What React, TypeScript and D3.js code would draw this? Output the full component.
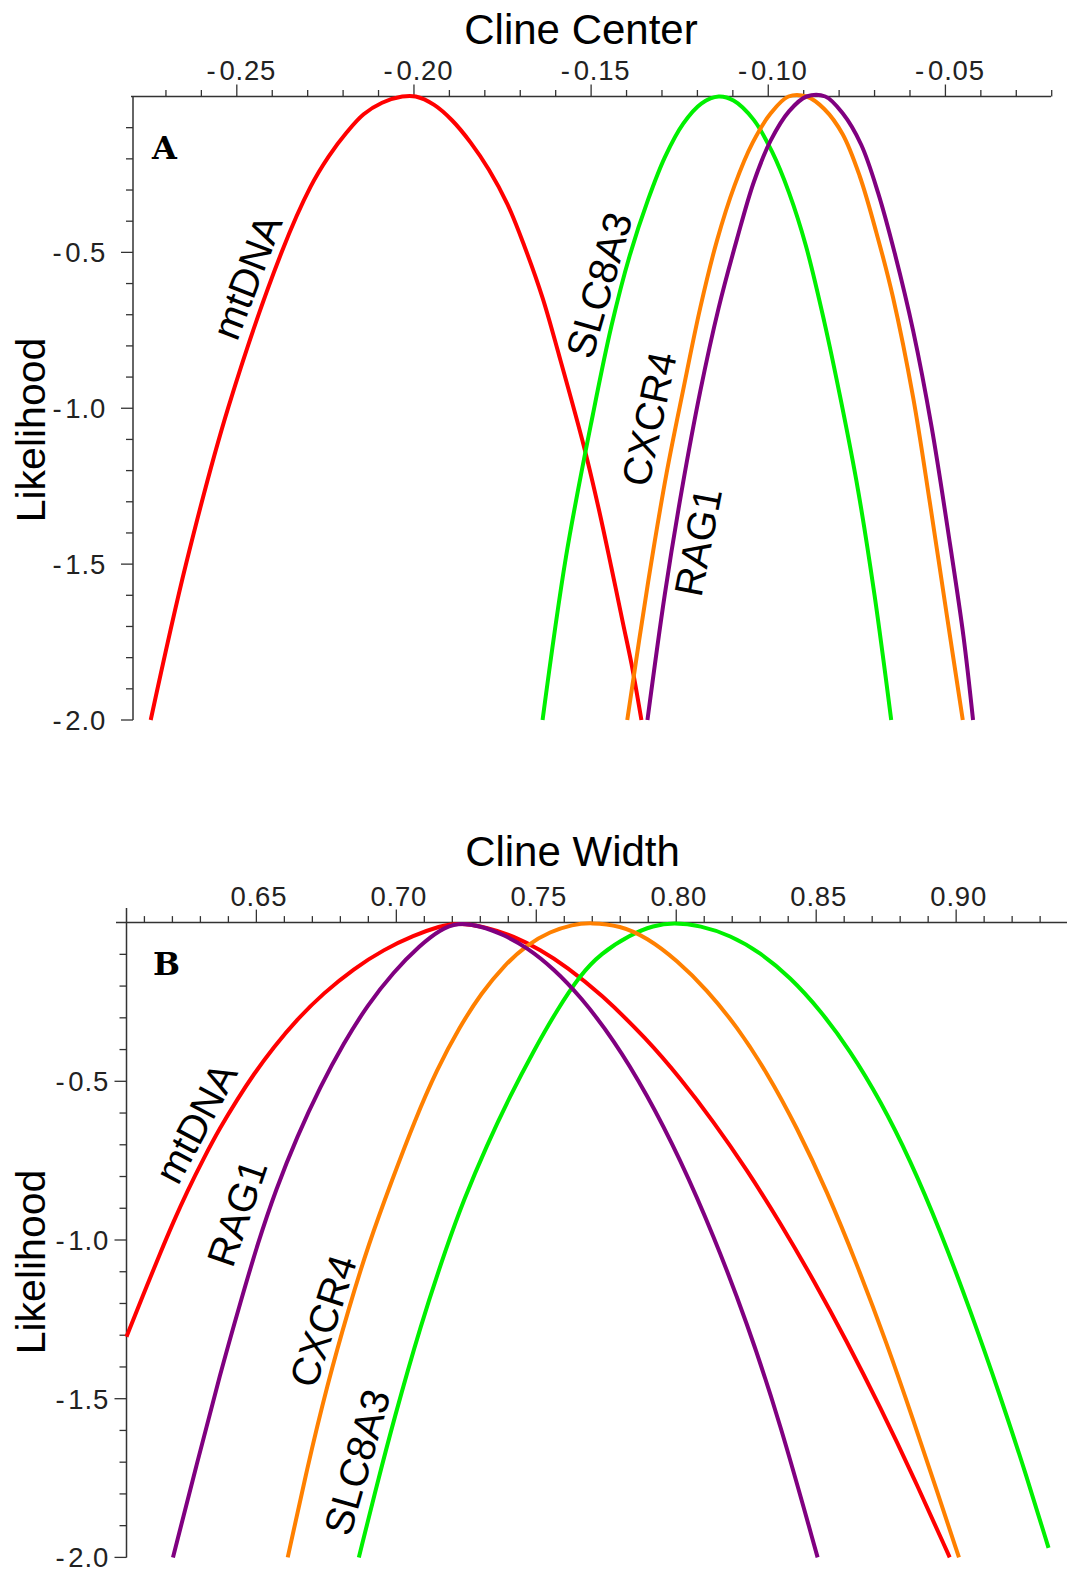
import React from 'react';
import * as d3 from 'd3';

const W = 1067;
const H = 1572;

// ---------- tick values / labels ----------
const centerTicks = [-0.25, -0.2, -0.15, -0.1, -0.05];
const centerTickLabels = ['-0.25', '-0.20', '-0.15', '-0.10', '-0.05'];
const centerMinor = d3.range(-27, -1, 1).map((v) => v / 100);
const widthTicks = [0.65, 0.7, 0.75, 0.8, 0.85, 0.9];
const widthTickLabels = ['0.65', '0.70', '0.75', '0.80', '0.85', '0.90'];
const widthMinor = d3.range(61, 94, 1).map((v) => v / 100);
const likeTicks = [-0.5, -1.0, -1.5, -2.0];
const likeTickLabels = ['-0.5', '-1.0', '-1.5', '-2.0'];
const likeMinor = d3.range(1, 21, 1).map((v) => -v / 10);

const genes = ['mtDNA', 'SLC8A3', 'CXCR4', 'RAG1'];
const geneColors = ['#ff0000', '#00f000', '#ff8000', '#800080'];

// ---------- Panel A: cline center ----------
const centerMtDNA: [number, number][] = [
  [-0.2743, -2.0], [-0.2643, -1.498], [-0.2524, -0.997], [-0.2373, -0.498], [-0.2292, -0.29],
  [-0.2241, -0.193], [-0.2189, -0.114], [-0.2142, -0.057], [-0.209, -0.02], [-0.2033, 0],
  [-0.1995, 0], [-0.1943, -0.027], [-0.1892, -0.077], [-0.184, -0.148], [-0.1788, -0.236],
  [-0.1736, -0.346], [-0.1689, -0.478], [-0.1637, -0.646], [-0.159, -0.832], [-0.1519, -1.128],
  [-0.1476, -1.335], [-0.1443, -1.51], [-0.141, -1.69], [-0.1386, -1.82], [-0.1358, -2.0],
];
const centerSLC8A3: [number, number][] = [
  [-0.1637, -2.0], [-0.1571, -1.477], [-0.1495, -1.02], [-0.1443, -0.738], [-0.1391, -0.51],
  [-0.1339, -0.33], [-0.1292, -0.195], [-0.124, -0.087], [-0.1188, -0.022], [-0.114, 0],
  [-0.1098, -0.013], [-0.1041, -0.075], [-0.0989, -0.178], [-0.0941, -0.31], [-0.0894, -0.478],
  [-0.0842, -0.722], [-0.0795, -0.975], [-0.0747, -1.26], [-0.07, -1.6], [-0.0653, -2.0],
];
const centerCXCR4: [number, number][] = [
  [-0.1398, -2.0], [-0.1339, -1.557], [-0.1287, -1.208], [-0.124, -0.94], [-0.1192, -0.678],
  [-0.1145, -0.463], [-0.1095, -0.285], [-0.1044, -0.148], [-0.0993, -0.054], [-0.0943, 0],
  [-0.0892, 0], [-0.0842, -0.04], [-0.079, -0.121], [-0.0742, -0.255], [-0.0695, -0.436],
  [-0.0648, -0.644], [-0.0591, -0.966], [-0.0544, -1.302], [-0.0496, -1.664], [-0.0451, -2.0],
];
const centerRAG1: [number, number][] = [
  [-0.1341, -2.0], [-0.1292, -1.597], [-0.1244, -1.262], [-0.1192, -0.946], [-0.114, -0.678],
  [-0.1088, -0.456], [-0.1041, -0.275], [-0.0993, -0.141], [-0.0941, -0.047], [-0.0892, 0],
  [-0.0839, 0], [-0.079, -0.054], [-0.0738, -0.154], [-0.069, -0.309], [-0.0643, -0.503],
  [-0.0591, -0.752], [-0.0539, -1.06], [-0.0487, -1.436], [-0.0449, -1.732], [-0.0422, -2.0],
];

// ---------- Panel B: cline width ----------
const widthMtDNA: [number, number][] = [
  [0.6036, -1.305], [0.6093, -1.178], [0.6157, -1.04], [0.6205, -0.94], [0.6252, -0.848],
  [0.6312, -0.742], [0.6371, -0.645], [0.6431, -0.558], [0.649, -0.478], [0.6562, -0.392],
  [0.6645, -0.305], [0.674, -0.222], [0.6848, -0.145], [0.6955, -0.085], [0.7062, -0.04],
  [0.7157, -0.011], [0.7217, 0], [0.7324, -0.014], [0.7419, -0.043], [0.7514, -0.085],
  [0.761, -0.14], [0.7729, -0.223], [0.7895, -0.367], [0.8014, -0.49], [0.8133, -0.627],
  [0.8252, -0.778], [0.8371, -0.945], [0.849, -1.125], [0.861, -1.32], [0.8729, -1.527],
  [0.8848, -1.747], [0.8977, -2.0],
];
const widthSLC8A3: [number, number][] = [
  [0.6866, -2.0], [0.6931, -1.77], [0.699, -1.57], [0.7086, -1.27], [0.718, -1.02],
  [0.724, -0.875], [0.7324, -0.7], [0.7407, -0.545], [0.749, -0.405], [0.7574, -0.275],
  [0.7657, -0.165], [0.7729, -0.098], [0.7836, -0.038], [0.7919, -0.009], [0.799, 0],
  [0.8086, -0.009], [0.8193, -0.04], [0.83, -0.094], [0.8407, -0.172], [0.8514, -0.275],
  [0.8621, -0.403], [0.8729, -0.56], [0.8836, -0.748], [0.8943, -0.97], [0.905, -1.22],
  [0.9157, -1.49], [0.9252, -1.745], [0.933, -1.97],
];
const widthCXCR4: [number, number][] = [
  [0.6612, -2.0], [0.6681, -1.72], [0.6752, -1.46], [0.683, -1.215], [0.69, -1.015],
  [0.6985, -0.81], [0.7065, -0.625], [0.7145, -0.462], [0.7225, -0.33], [0.7305, -0.22],
  [0.7385, -0.135], [0.7466, -0.07], [0.755, -0.028], [0.763, -0.006], [0.7693, 0],
  [0.78, -0.009], [0.7895, -0.047], [0.8002, -0.118], [0.811, -0.212], [0.8217, -0.328],
  [0.8324, -0.472], [0.8431, -0.645], [0.8538, -0.845], [0.8645, -1.075], [0.8752, -1.325],
  [0.8848, -1.57], [0.8931, -1.79], [0.901, -2.0],
];
const widthRAG1: [number, number][] = [
  [0.6202, -2.0], [0.6288, -1.703], [0.6371, -1.42], [0.6445, -1.19], [0.6505, -1.01],
  [0.657, -0.84], [0.6645, -0.675], [0.6729, -0.515], [0.6812, -0.38], [0.6895, -0.262],
  [0.699, -0.155], [0.7086, -0.07], [0.7157, -0.022], [0.7217, 0], [0.73, -0.01],
  [0.7383, -0.038], [0.7467, -0.078], [0.7562, -0.145], [0.7657, -0.232], [0.7776, -0.368],
  [0.7895, -0.54], [0.8014, -0.745], [0.8133, -0.985], [0.8252, -1.258], [0.8371, -1.575],
  [0.8505, -2.0],
];

// label placements (annotation positions in px, with rotation)
const centerLabelPos = [
  { gene: 'mtDNA', x: 247, y: 277, rot: -69 },
  { gene: 'SLC8A3', x: 599, y: 285, rot: -74 },
  { gene: 'CXCR4', x: 649, y: 419, rot: -78 },
  { gene: 'RAG1', x: 698, y: 542, rot: -79 },
];
const widthLabelPos = [
  { gene: 'mtDNA', x: 196, y: 1123, rot: -62 },
  { gene: 'RAG1', x: 237, y: 1213, rot: -71 },
  { gene: 'CXCR4', x: 323, y: 1321, rot: -72 },
  { gene: 'SLC8A3', x: 357, y: 1462, rot: -74 },
];

const SANS = '"Liberation Sans", Arial, Helvetica, sans-serif';
const AXIS = '#333';
const TXT = '#222';

function TickLabel({ x, y, label, anchor }: { x: number; y: number; label: string; anchor: string }) {
  const neg = label.startsWith('-');
  return (
    <text x={x} y={y} textAnchor={anchor} fontFamily={SANS} fontSize={27.5} fill={TXT} letterSpacing={0.8}>
      {neg ? (
        <>
          <tspan>-</tspan>
          <tspan dx={3}>{label.slice(1)}</tspan>
        </>
      ) : (
        label
      )}
    </text>
  );
}

type PanelProps = {
  x: d3.ScaleLinear<number, number>;
  y: d3.ScaleLinear<number, number>;
  series: [number, number][][];
  curve: d3.CurveFactory;
  majorX: number[];
  majorXLabels: string[];
  minorX: number[];
  xLabelShift: number;
  xAxisStart: number;
  xAxisEnd: number;
  yAxisTop: number;
  yLabelEnd: number;
  title: string;
  titleX: number;
  titleY: number;
  yTitleY: number;
  letter: string;
  letterX: number;
  letterY: number;
  labels: { gene: string; x: number; y: number; rot: number }[];
  xLabelBaseline: number;
  majorLen: number;
};

function Panel(p: PanelProps) {
  const y0 = p.y(0);
  const xAxisX = p.x.range()[0];
  const line = d3
    .line<[number, number]>()
    .x((d) => p.x(d[0]))
    .y((d) => p.y(d[1]))
    .curve(p.curve);
  const majorSet = new Set(p.majorX.map((v) => Math.round(v * 100)));
  const majorYSet = new Set(likeTicks.map((v) => Math.round(v * 10)));
  return (
    <g>
      {/* x axis */}
      <line x1={p.xAxisStart} x2={p.xAxisEnd} y1={y0} y2={y0} stroke={AXIS} strokeWidth={1.5} />
      {p.minorX
        .filter((v) => !majorSet.has(Math.round(v * 100)))
        .map((v, i) => (
          <line key={'mx' + i} x1={p.x(v)} x2={p.x(v)} y1={y0} y2={y0 - 6.5} stroke={AXIS} strokeWidth={1.3} />
        ))}
      {p.majorX.map((v, i) => (
        <g key={'Mx' + i}>
          <line x1={p.x(v)} x2={p.x(v)} y1={y0} y2={y0 - p.majorLen} stroke={AXIS} strokeWidth={1.3} />
          <TickLabel x={p.x(v) + p.xLabelShift} y={p.xLabelBaseline} label={p.majorXLabels[i]} anchor="middle" />
        </g>
      ))}
      {/* y axis */}
      <line x1={xAxisX} x2={xAxisX} y1={p.yAxisTop} y2={p.y(-2)} stroke={AXIS} strokeWidth={1.5} />
      {likeMinor
        .filter((v) => !majorYSet.has(Math.round(v * 10)))
        .map((v, i) => (
          <line key={'my' + i} x1={xAxisX} x2={xAxisX - 7} y1={p.y(v)} y2={p.y(v)} stroke={AXIS} strokeWidth={1.3} />
        ))}
      {likeTicks.map((v, i) => (
        <g key={'My' + i}>
          <line x1={xAxisX} x2={xAxisX - 12} y1={p.y(v)} y2={p.y(v)} stroke={AXIS} strokeWidth={1.3} />
          <TickLabel x={p.yLabelEnd} y={p.y(v) + 9.8} label={likeTickLabels[i]} anchor="end" />
        </g>
      ))}
      {/* titles */}
      <text x={p.titleX} y={p.titleY} textAnchor="middle" fontFamily={SANS} fontSize={42} fill="#000">
        {p.title}
      </text>
      <text
        transform={`translate(45,${p.yTitleY}) rotate(-90)`}
        textAnchor="middle"
        fontFamily={SANS}
        fontSize={41}
        fill="#000"
      >
        Likelihood
      </text>
      <text x={p.letterX} y={p.letterY} fontFamily='"DejaVu Serif", "Liberation Serif", serif' fontWeight="bold" fontSize={32} fill="#000">
        {p.letter}
      </text>
      {/* curves */}
      {p.series.map((s, i) => (
        <path key={'c' + i} d={line(s) || ''} fill="none" stroke={geneColors[i]} strokeWidth={4} strokeLinejoin="round" />
      ))}
      {/* curve labels */}
      {p.labels.map((l, i) => (
        <text
          key={'l' + i}
          transform={`translate(${l.x},${l.y}) rotate(${l.rot})`}
          textAnchor="middle"
          dominantBaseline="central"
          fontFamily={SANS}
          fontSize={40}
          fill="#000"
        >
          {l.gene}
        </text>
      ))}
    </g>
  );
}

export default function App() {
  const xA = d3.scaleLinear().domain([-0.2793, -0.0202]).range([133, 1051]);
  const yA = d3.scaleLinear().domain([0, -2]).range([96.5, 720]);
  const xB = d3.scaleLinear().domain([0.6036, 0.9396]).range([126.5, 1067]);
  const yB = d3.scaleLinear().domain([0, -2]).range([922.6, 1557.4]);

  const seriesA = [centerMtDNA, centerSLC8A3, centerCXCR4, centerRAG1];
  const seriesB = [widthMtDNA, widthSLC8A3, widthCXCR4, widthRAG1];

  return (
    <svg
      width={W}
      height={H}
      viewBox={`0 0 ${W} ${H}`}
      style={{ position: 'absolute', left: 0, top: 0, background: '#fff' }}
    >
      <rect x={0} y={0} width={W} height={H} fill="#fff" />
      <Panel
        x={xA}
        y={yA}
        series={seriesA}
        curve={d3.curveCatmullRom.alpha(0.5)}
        majorX={centerTicks}
        majorXLabels={centerTickLabels}
        minorX={centerMinor}
        xLabelShift={4.5}
        xAxisStart={131}
        xAxisEnd={1051}
        yAxisTop={96.5}
        yLabelEnd={106}
        title="Cline Center"
        titleX={581}
        titleY={44}
        yTitleY={430}
        letter="A"
        letterX={152}
        letterY={158.5}
        labels={centerLabelPos}
        xLabelBaseline={79.5}
        majorLen={12}
      />
      <Panel
        x={xB}
        y={yB}
        series={seriesB}
        curve={d3.curveBasis}
        majorX={widthTicks}
        majorXLabels={widthTickLabels}
        minorX={widthMinor}
        xLabelShift={2.5}
        xAxisStart={116}
        xAxisEnd={1067}
        yAxisTop={908}
        yLabelEnd={109}
        title="Cline Width"
        titleX={572.5}
        titleY={866}
        yTitleY={1262}
        letter="B"
        letterX={153}
        letterY={975}
        labels={widthLabelPos}
        xLabelBaseline={905.5}
        majorLen={13}
      />
    </svg>
  );
}
